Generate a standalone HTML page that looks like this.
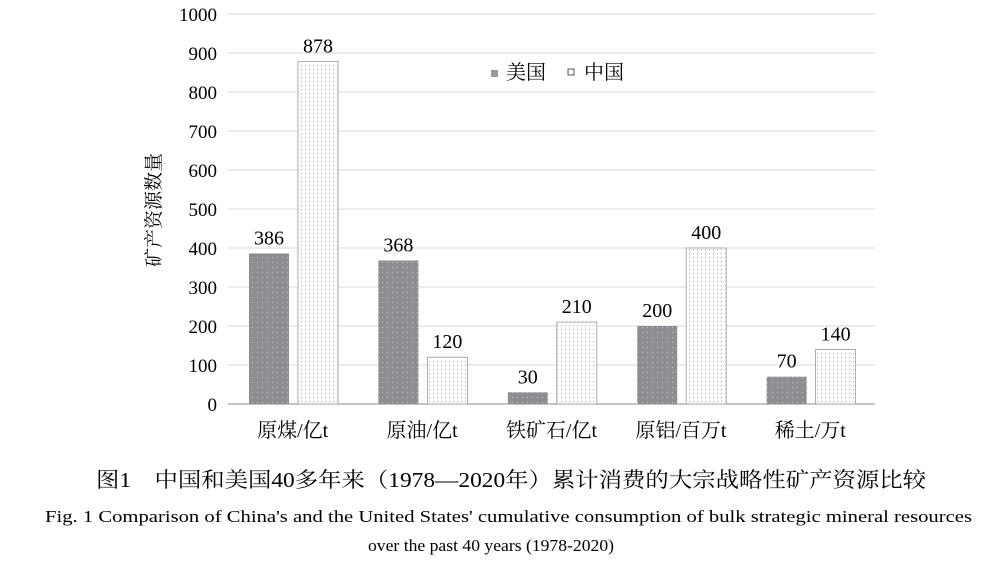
<!DOCTYPE html>
<html><head><meta charset="utf-8"><style>
body{margin:0;background:#fff;width:982px;height:566px;overflow:hidden;font-family:"Liberation Serif","Noto Serif CJK SC",serif}
svg text{font-family:"Liberation Serif","Noto Serif CJK SC",serif}
</style></head><body>
<svg id="c" width="982" height="566">
<defs>
<pattern id="pu" width="5" height="5" patternUnits="userSpaceOnUse"><rect width="5" height="5" fill="#8e8e92"/><rect x="2" y="2" width="1" height="1" fill="#c4c4cc"/></pattern>
<pattern id="pc" width="4" height="4" patternUnits="userSpaceOnUse"><rect width="4" height="4" fill="#fff"/><rect x="1" y="1" width="1" height="1" fill="#9fb0e0"/></pattern>
</defs>
<g id="grid"></g><g id="bars"></g>
<text x="160" y="210" font-size="19" transform="rotate(-90 160 210)" text-anchor="middle">矿产资源数量</text>
<g>
<rect x="491" y="70" width="7" height="7" fill="#9a9a9a"/>
<text x="506" y="79" font-size="20">美国</text>
<rect x="568" y="69" width="6" height="6" fill="#fff" stroke="#555"/>
<text x="584" y="79" font-size="20">中国</text>
</g>
<text x="96" y="487" font-size="21" textLength="830" lengthAdjust="spacingAndGlyphs">图1　中国和美国40多年来（1978—2020年）累计消费的大宗战略性矿产资源比较</text>
<text x="45" y="522" font-size="17" textLength="927" lengthAdjust="spacingAndGlyphs">Fig. 1   Comparison of China's and the United States' cumulative consumption of bulk strategic mineral resources</text>
<text x="368" y="551" font-size="17" textLength="246" lengthAdjust="spacingAndGlyphs">over the past 40 years (1978-2020)</text>
</svg>
<script>
const categories=["原煤/亿t","原油/亿t","铁矿石/亿t","原铝/百万t","稀土/万t"];
const usValues=[386,368,30,200,70];
const cnValues=[878,120,210,400,140];
const yTicks=[0,100,200,300,400,500,600,700,800,900,1000];
const NS="http://www.w3.org/2000/svg";
const x0=228,x1=875,yb=404,yt=14;
const y=v=>yb-(v/1000)*(yb-yt);
const gw=(x1-x0)/categories.length;
function mk(t,a,p,txt){const e=document.createElementNS(NS,t);for(const k in a)e.setAttribute(k,a[k]);if(txt!=null)e.textContent=txt;p.appendChild(e);return e;}
const g=document.getElementById('grid'),b=document.getElementById('bars');
yTicks.forEach(v=>{
 const l=mk('line',{x1:x0,x2:x1,y1:y(v),y2:y(v),stroke:v===0?'#888':'#d9d9d9','stroke-width':1},g);
 
 
 const t=mk('text',{x:x0-11,y:y(v)+7,'font-size':19,'text-anchor':'end'},g,v);
 
 
});
categories.forEach((c,i)=>{
 const gx=x0+i*gw;
 const ux=gx+21,cx=gx+70,w=40;
 const r1=mk('rect',{x:ux,y:y(usValues[i]),width:w,height:yb-y(usValues[i]),fill:'url(#pu)'},b);
 
 
 const r2=mk('rect',{x:cx,y:y(cnValues[i]),width:w,height:yb-y(cnValues[i]),fill:'url(#pc)',stroke:'#999','stroke-width':0.8},b);
 
 
 const l1=mk('text',{x:ux+w/2,y:y(usValues[i])-9,'font-size':20,'text-anchor':'middle'},b,usValues[i]);
 
 
 const l2=mk('text',{x:cx+w/2,y:y(cnValues[i])-9,'font-size':20,'text-anchor':'middle'},b,cnValues[i]);
 
 
 const ct=mk('text',{x:gx+gw/2,y:437,'font-size':20,'text-anchor':'middle'},b,c);
 
 
});
</script>
</body></html>
